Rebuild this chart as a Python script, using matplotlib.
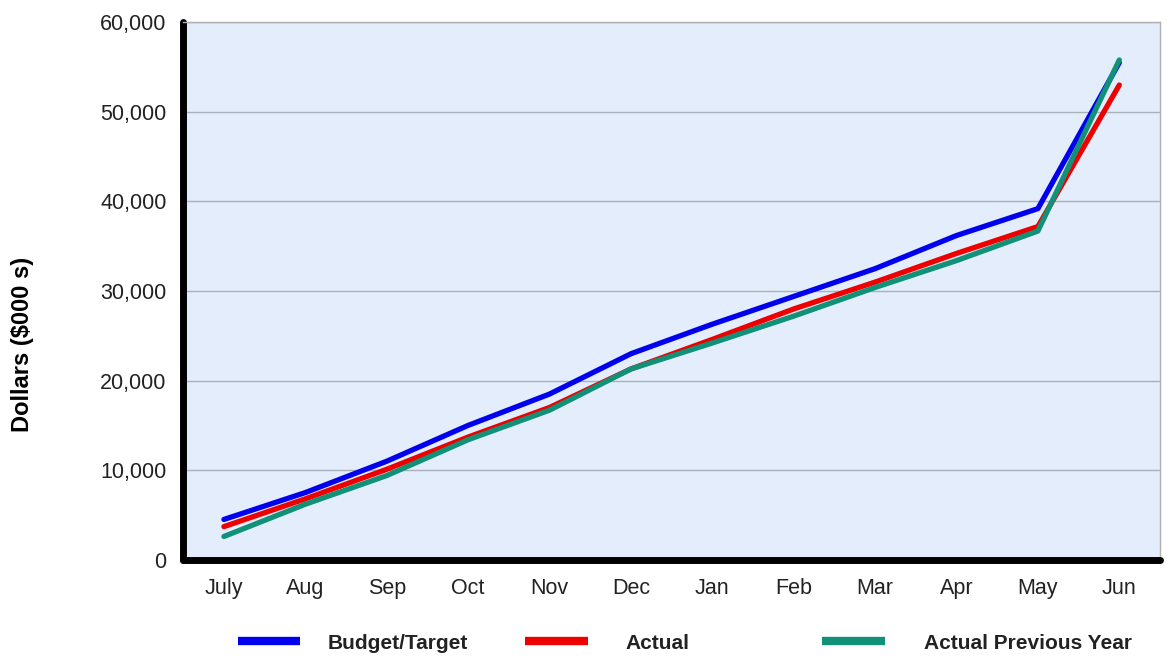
import matplotlib
matplotlib.use("Agg")
import matplotlib.pyplot as plt
from matplotlib.lines import Line2D
from matplotlib.ticker import FuncFormatter

plt.rcParams["font.family"] = ["Liberation Sans", "DejaVu Sans"]

# ---------- Data (cumulative, $000s) ----------
months = ["July", "Aug", "Sep", "Oct", "Nov", "Dec", "Jan", "Feb", "Mar", "Apr", "May", "Jun"]
budget = [4500, 7500, 11000, 15000, 18500, 23000, 26300, 29400, 32500, 36200, 39200, 55500]
actual = [3700, 6800, 10100, 13700, 17000, 21300, 24600, 28000, 31000, 34200, 37200, 53000]
prev_year = [2600, 6200, 9400, 13400, 16700, 21300, 24200, 27200, 30400, 33400, 36700, 55800]

series = [
    ("Budget/Target", budget, "#0000ee"),
    ("Actual", actual, "#ee0000"),
    ("Actual Previous Year", prev_year, "#119177"),
]

fig = plt.figure(figsize=(11.67, 6.57), dpi=100)
ax = fig.add_axes([0.157, 0.148, 0.837, 0.818])
ax.set_facecolor("#e3edfb")

x = list(range(len(months)))
for name, vals, col in series:
    ax.plot(x, vals, color=col, lw=3.8, solid_joinstyle="round", solid_capstyle="round", zorder=3)

ax.set_xlim(-0.5, len(months) - 0.5)
ax.set_ylim(0, 60000)
ax.set_yticks(range(0, 60001, 10000))
ax.yaxis.set_major_formatter(FuncFormatter(lambda v, p: f"{int(v):,}"))
ax.set_xticks(x)
ax.set_xticklabels(months)
ax.tick_params(axis="both", length=0, labelsize=15.5, colors="#222222")
ax.tick_params(axis="x", pad=13)
ax.tick_params(axis="y", pad=12)
ax.grid(axis="y", color="#a9b1bd", lw=1.0, zorder=1)

for side in ("left", "bottom"):
    ax.spines[side].set_linewidth(5)
    ax.spines[side].set_color("black")
    ax.spines[side].set_capstyle("round")
for side in ("top", "right"):
    ax.spines[side].set_linewidth(1)
    ax.spines[side].set_color("#b0b0b0")

fig.text(0.019, 0.476, "Dollars ($000 s)", rotation=90, ha="center", va="center",
         fontsize=17, fontweight="bold")

# legend row along the bottom: (handle start, handle end, text start)
legend_pos = [(0.204, 0.257, 0.281), (0.450, 0.504, 0.536), (0.704, 0.758, 0.792)]
for (name, vals, col), (h0, h1, tx) in zip(series, legend_pos):
    fig.add_artist(Line2D([h0, h1], [0.024, 0.024], color=col, lw=6,
                          solid_capstyle="butt", transform=fig.transFigure))
    fig.text(tx, 0.021, name, ha="left", va="center", fontsize=15,
             fontweight="bold", color="#222222")

fig.savefig("out.png", dpi=100)
